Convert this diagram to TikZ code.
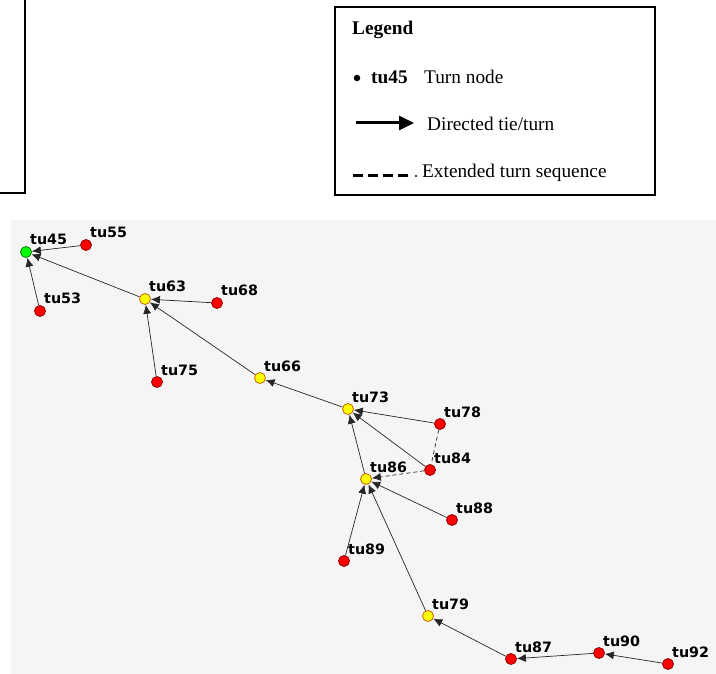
\documentclass[tikz,border=0pt]{standalone}
\usepackage{fontspec}
\setmainfont{Liberation Serif}
\newfontfamily\lblfont{DejaVu Sans}
\usetikzlibrary{arrows.meta}
\definecolor{panelgray}{HTML}{F5F5F5}
\definecolor{rfill}{HTML}{FF0000}
\definecolor{rline}{HTML}{8B0000}
\definecolor{yfill}{HTML}{FFFF00}
\definecolor{yline}{HTML}{C86400}
\definecolor{gfill}{HTML}{00FF00}
\definecolor{gline}{HTML}{007A00}
\tikzset{
  turn/.style={circle, inner sep=0pt, minimum size=11pt, line width=0.8pt},
  rn/.style={turn, fill=rfill, draw=rline},
  yn/.style={turn, fill=yfill, draw=yline},
  gn/.style={turn, fill=gfill, draw=gline},
  lbl/.style={anchor=base west, inner sep=0pt, font=\lblfont\bfseries\fontsize{14.3}{15}\selectfont},
  edge/.style={line width=0.7pt, draw=black!85, -{Latex[length=9pt,width=8pt]}},
  dedge/.style={edge, dash pattern=on 4pt off 3pt},
  dline/.style={line width=0.7pt, draw=black!85, dash pattern=on 4pt off 3pt},
  legtext/.style={anchor=base west, inner sep=0pt, font=\fontsize{19.3}{22}\selectfont},
  frame/.style={line width=1.6pt, draw=black}
}
\newcommand{\tunode}[4]{%
  \node[#1] (#2) at (#3) {};
  \node[lbl] (l#2) at ([shift={(4,-7)}]#2.center) {#4};}
\begin{document}
\begin{tikzpicture}[x=1pt,y=-1pt]
\useasboundingbox (0,0) rectangle (716,674);
% partial box at left
\coordinate (pbA) at (25,0);
\coordinate (pbB) at (25,193);
\coordinate (pbC) at (0,193);
\draw[frame] (pbA) -- (pbB) -- (pbC);
% legend
\node[frame, rectangle, minimum width=320pt, minimum height=188pt, anchor=north west, inner sep=0pt] (legend) at (334,6) {};
\node[legtext, font=\bfseries\fontsize{19.3}{22}\selectfont] (lgT) at (352,35) {Legend};
\node[circle, fill=black, inner sep=0pt, minimum size=6.5pt] (lgDot) at (357,78) {};
\node[legtext, font=\bfseries\fontsize{19.3}{22}\selectfont] (lgTu) at (371,84) {tu45};
\node[legtext] (lgTurn) at (424,84) {Turn node};
\coordinate (lgA1) at (356,123);
\coordinate (lgA2) at (414,123);
\draw[line width=3pt, -{Triangle[length=15pt,width=14pt]}] (lgA1) -- (lgA2);
\node[legtext] (lgDir) at (427,131) {Directed tie/turn};
\coordinate (lgD1) at (353,176);
\coordinate (lgD2) at (409,176);
\draw[line width=3pt, dash pattern=on 10pt off 5pt] (lgD1) -- (lgD2);
\node[circle, fill=black, inner sep=0pt, minimum size=2.2pt] (lgP) at (416,176) {};
\node[legtext] (lgExt) at (422,178) {Extended turn sequence};
% panel
\fill[panelgray] (11,220) rectangle (716,674);
% nodes
\tunode{gn}{n45}{26,252}{tu45}
\tunode{rn}{n55}{86,245}{tu55}
\tunode{rn}{n53}{40,311}{tu53}
\tunode{yn}{n63}{145,299}{tu63}
\tunode{rn}{n68}{217,303}{tu68}
\tunode{rn}{n75}{157,382}{tu75}
\tunode{yn}{n66}{260,378}{tu66}
\tunode{yn}{n73}{348,409}{tu73}
\tunode{rn}{n78}{440,424}{tu78}
\tunode{rn}{n84}{430,470}{tu84}
\tunode{yn}{n86}{366,479}{tu86}
\tunode{rn}{n88}{452,520}{tu88}
\tunode{rn}{n89}{344,561}{tu89}
\tunode{yn}{n79}{428,616}{tu79}
\tunode{rn}{n87}{511,659}{tu87}
\tunode{rn}{n90}{599,653}{tu90}
\tunode{rn}{n92}{668,664}{tu92}
% edges
\draw[edge] (n55) -- (n45);
\draw[edge] (n53) -- (n45);
\draw[edge] (n63) -- (n45);
\draw[edge] (n68) -- (n63);
\draw[edge] (n75) -- (n63);
\draw[edge] (n66) -- (n63);
\draw[edge] (n73) -- (n66);
\draw[edge] (n78) -- (n73);
\draw[edge] (n84) -- (n73);
\draw[edge] (n86) -- (n73);
\draw[dline] (n78) -- (n84);
\draw[dedge] (n84) -- (n86);
\draw[edge] (n88) -- (n86);
\draw[edge] (n89) -- (n86);
\draw[edge] (n79) -- (n86);
\draw[edge] (n87) -- (n79);
\draw[edge] (n90) -- (n87);
\draw[edge] (n92) -- (n90);
\end{tikzpicture}
\end{document}
